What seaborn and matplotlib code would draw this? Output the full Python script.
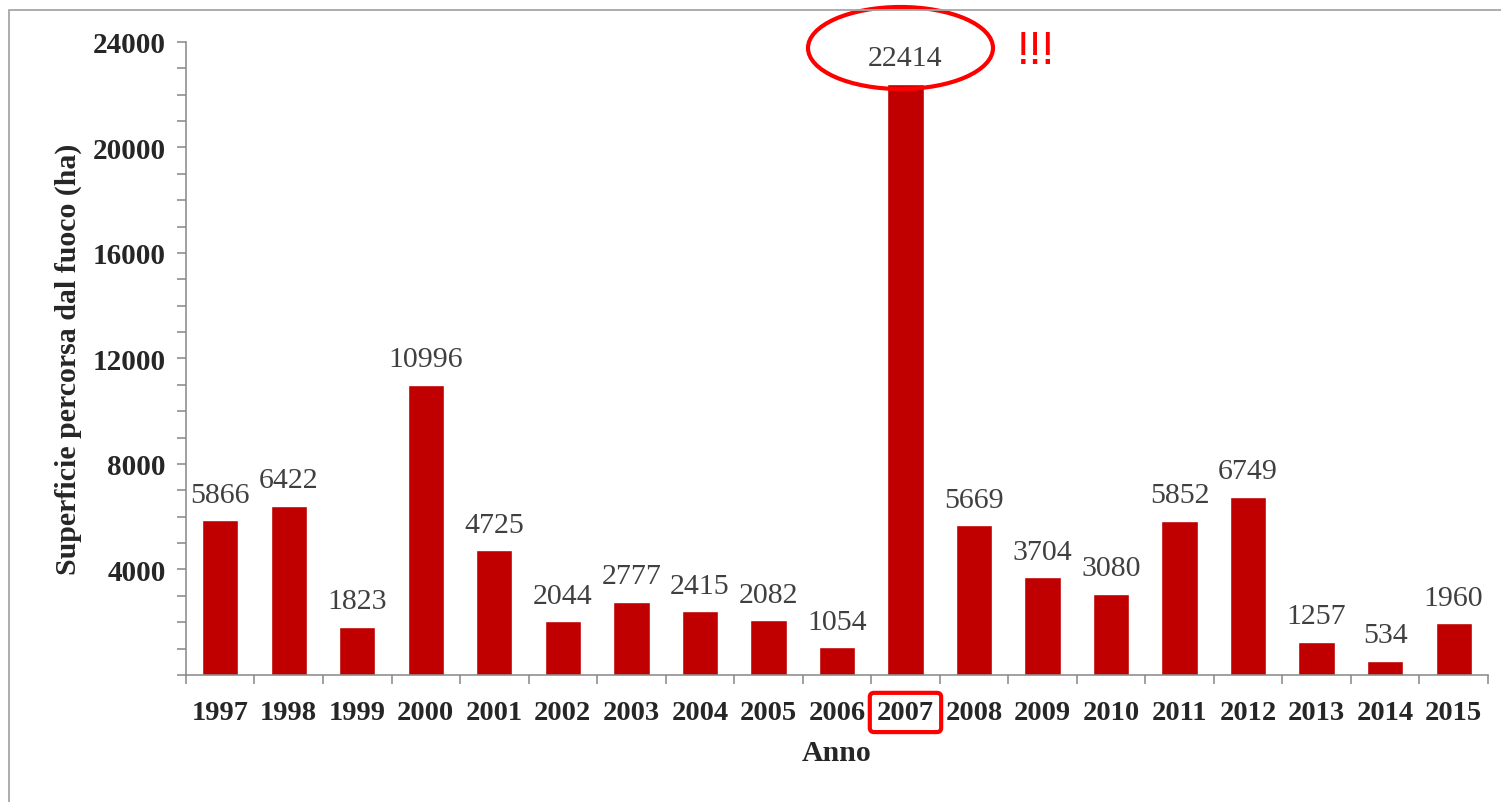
import matplotlib
matplotlib.use("Agg")
import matplotlib.pyplot as plt
import seaborn as sns
import pandas as pd
from matplotlib.patches import Ellipse, Rectangle
from matplotlib.ticker import MultipleLocator, FixedLocator

# dati
anni = [str(a) for a in range(1997, 2016)]
superficie = [5866, 6422, 1823, 10996, 4725, 2044, 2777, 2415, 2082, 1054,
              22414, 5669, 3704, 3080, 5852, 6749, 1257, 534, 1960]
yticks = [4000, 8000, 12000, 16000, 20000, 24000]

sns.set_theme(style="ticks")
plt.rcParams["font.family"] = ["Liberation Serif", "DejaVu Serif"]

df = pd.DataFrame({"Anno": anni, "Superficie": superficie})

fig = plt.figure(figsize=(15.01, 8.03), dpi=100)
ax = fig.add_axes([0.1239, 0.1582, 0.8674, 0.7883])

sns.barplot(data=df, x="Anno", y="Superficie", color="#C00000",
            width=0.53, saturation=1, ax=ax)

ax.bar_label(ax.containers[0], labels=[str(v) for v in superficie],
             padding=9, fontsize=21.5, color="#404040")

# assi
ax.set_xlim(-0.5, len(anni) - 0.5)
ax.set_ylim(0, 24000)
ax.set_yticks(yticks)
ax.set_yticklabels([str(t) for t in yticks], fontweight="bold", fontsize=21)
ax.yaxis.set_minor_locator(MultipleLocator(1000))
ax.tick_params(axis="y", which="both", length=6.5, width=1.1, color="#868686",
               direction="out", pad=8)
ax.xaxis.set_minor_locator(FixedLocator([i - 0.5 for i in range(len(anni) + 1)]))
ax.tick_params(axis="x", which="minor", length=6.5, width=1.1, color="#868686",
               direction="out")
ax.tick_params(axis="x", which="major", length=0, pad=18)
for lab in ax.get_xticklabels():
    lab.set_fontweight("bold")
    lab.set_fontsize(20.5)

sns.despine(ax=ax)
for s in ["left", "bottom"]:
    ax.spines[s].set_color("#868686")
    ax.spines[s].set_linewidth(1.1)

ax.set_xlabel("Anno", fontsize=21.5, fontweight="bold", labelpad=10)
ax.set_ylabel("Superficie percorsa dal fuoco (ha)", fontsize=21.5,
              fontweight="bold", labelpad=8)

# evidenziazioni 2007
ax.get_xticklabels()[10].set_bbox(dict(boxstyle="round,pad=0.25,rounding_size=0.15",
                                       fc="none", ec="#FF0000", lw=3))
fig.add_artist(Ellipse((900.5 / 1501, 1 - 49 / 803), 185 / 1501, 82 / 803,
                       transform=fig.transFigure, fill=False,
                       ec="#FF0000", lw=3))
fig.text(1036 / 1501, 1 - 52 / 803, "!!!", color="#FF0000", fontsize=33,
         family="Liberation Sans", ha="center", va="center")

# cornice
fig.add_artist(Rectangle((9 / 1501, -0.5), 2, 1.5 - 11 / 803,
                         transform=fig.transFigure, fill=False,
                         ec="#A6A6A6", lw=1.3))

fig.savefig("out.png", dpi=100)
